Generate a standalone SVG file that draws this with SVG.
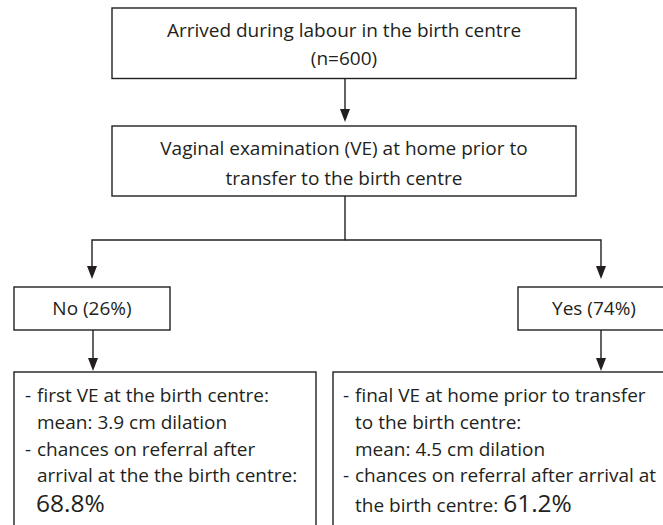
<svg xmlns="http://www.w3.org/2000/svg" width="663" height="525" viewBox="0 0 663 525">
  <style>
    .box { fill: #ffffff; stroke: #231f20; stroke-width: 1.4; }
    .edge { fill: none; stroke: #231f20; stroke-width: 1.4; }
    .head { fill: #231f20; }
    text { font-family: "Open Sans", "Noto Sans", "Liberation Sans", sans-serif; font-size: 19px; fill: #231f20; }
    .c { text-anchor: middle; }
    .big { font-size: 24.5px; }
  </style>
  <rect width="663" height="525" fill="#ffffff"/>

  <!-- connectors: straight strokes with filled triangular heads -->
  <g id="connectors">
    <line class="edge" x1="345" y1="78.5" x2="345" y2="109"/>
    <path class="head" d="M340,109 L350,109 L345,122 Z"/>
    <polyline class="edge" points="345,196 345,240 92,240 92,266"/>
    <path class="head" d="M87,266 L97,266 L92,279 Z"/>
    <polyline class="edge" points="345,240 601,240 601,266"/>
    <path class="head" d="M596,266 L606,266 L601,279 Z"/>
    <line class="edge" x1="93" y1="330" x2="93" y2="358"/>
    <path class="head" d="M88,358 L98,358 L93,371 Z"/>
    <line class="edge" x1="601" y1="330" x2="601" y2="358"/>
    <path class="head" d="M596,358 L606,358 L601,371 Z"/>
  </g>

  <g id="arrived">
    <rect class="box" x="112" y="8" width="464" height="70.5"/>
    <text class="c" x="344" y="37">Arrived during labour in the birth centre</text>
    <text class="c" x="344" y="65">(n=600)</text>
  </g>

  <g id="vaginal-exam">
    <rect class="box" x="112" y="126" width="464" height="70"/>
    <text class="c" x="344" y="155">Vaginal examination (VE) at home prior to</text>
    <text class="c" x="344" y="185">transfer to the birth centre</text>
  </g>

  <g id="no">
    <rect class="box" x="14" y="287" width="156" height="43"/>
    <text class="c" x="92" y="315">No (26%)</text>
  </g>

  <g id="yes">
    <rect class="box" x="518" y="287" width="160" height="43"/>
    <text class="c" x="594" y="315">Yes (74%)</text>
  </g>

  <g id="no-outcome">
    <rect class="box" x="14" y="372" width="302" height="170"/>
    <text x="25" y="402">-</text>
    <text x="37" y="402">first VE at the birth centre:</text>
    <text x="37" y="429">mean: 3.9 cm dilation</text>
    <text x="25" y="456">-</text>
    <text x="37" y="456">chances on referral after</text>
    <text x="37" y="482">arrival at the the birth centre:</text>
    <text class="big" x="36" y="512">68.8%</text>
  </g>

  <g id="yes-outcome">
    <rect class="box" x="333" y="372" width="345" height="170"/>
    <text x="343" y="402">-</text>
    <text x="355" y="402">final VE at home prior to transfer</text>
    <text x="355" y="429">to the birth centre:</text>
    <text x="355" y="456">mean: 4.5 cm dilation</text>
    <text x="343" y="482">-</text>
    <text x="355" y="482">chances on referral after arrival at</text>
    <text x="355" y="512">the birth centre: <tspan class="big">61.2%</tspan></text>
  </g>
</svg>
